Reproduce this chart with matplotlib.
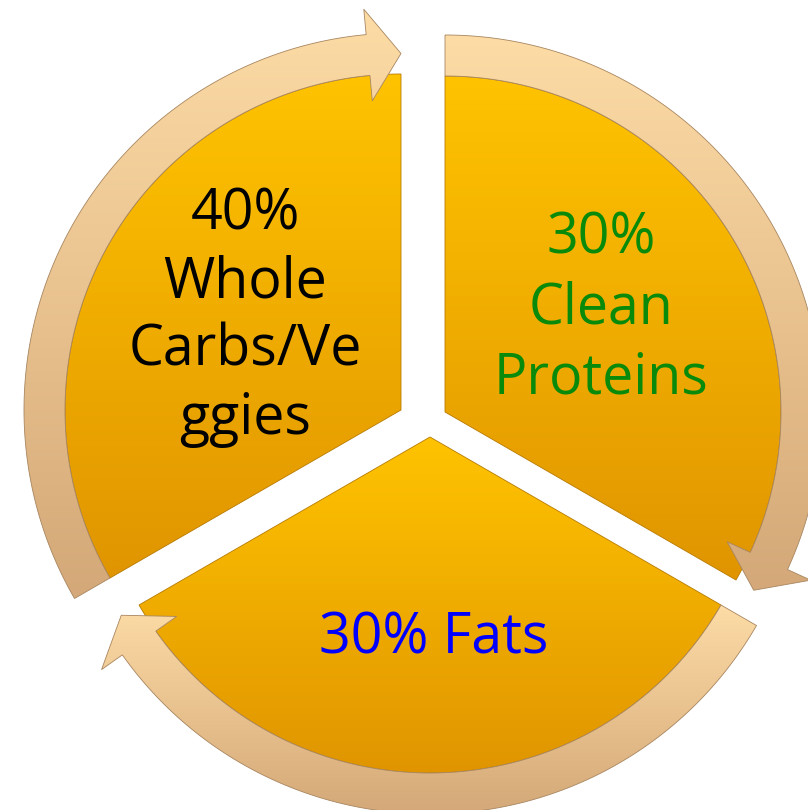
import numpy as np
import matplotlib
matplotlib.use("Agg")
import matplotlib.pyplot as plt
from matplotlib.patches import Polygon
from matplotlib.colors import to_rgb

# ---- data ----
labels = [["40%", "Whole", "Carbs/Ve", "ggies"],
          ["30%", "Clean", "Proteins"],
          ["30% Fats"]]
values = [40, 30, 30]
text_colors = ["#000000", "#0A8A0A", "#0000FF"]

# ---- layout (pixel coordinates) ----
centers = [(401, 410), (445, 412), (430, 437)]      # exploded apex of each segment
start_angles = [210, 90, -30]                        # clockwise sweep, 120 deg each
text_pos = [(245, [230, 298, 366, 434]), (601, [253, 323, 393]), (434, [653])]
R_WEDGE = 336
R_IN, R_OUT = 336, 377
HEAD_HALF = 46
HEAD_LEN = 33

W, H = 808, 810
fig = plt.figure(figsize=(W / 100, H / 100), dpi=100)
ax = fig.add_axes([0, 0, 1, 1])
ax.axis("off")


def pt(c, r, a):
    t = np.radians(a)
    return (c[0] + r * np.cos(t), c[1] - r * np.sin(t))


def grad_fill(patch, ctop, cbot, z, edge=None, lw=0.8):
    patch.set_facecolor("none")
    patch.set_edgecolor(edge if edge else "none")
    patch.set_linewidth(lw)
    patch.set_zorder(z + 0.5)
    ax.add_patch(patch)
    xy = patch.get_xy()
    x0, x1 = xy[:, 0].min(), xy[:, 0].max()
    y0, y1 = xy[:, 1].min(), xy[:, 1].max()
    t = np.linspace(0, 1, 256)[:, None, None]
    a, b = np.array(to_rgb(ctop)), np.array(to_rgb(cbot))
    img = a * (1 - t) + b * t
    im = ax.imshow(img, extent=(x0, x1, y1, y0), origin="upper", aspect="auto",
                   zorder=z, interpolation="bilinear")
    im.set_clip_path(patch)


n = len(values)
span = 360.0 / n
for i in range(n):
    c = centers[i]
    a0 = start_angles[i]
    a1 = a0 - span
    # wedge
    angs = np.linspace(a0, a1, 200)
    verts = [c] + [pt(c, R_WEDGE, a) for a in angs]
    grad_fill(Polygon(verts, closed=True), "#FFC300", "#E09500", 2,
              edge="#B87A00", lw=0.6)
    # ring arrow
    rm = (R_IN + R_OUT) / 2
    dlt = np.degrees(HEAD_LEN / rm)
    ab = a1 + dlt
    angs = np.linspace(a0, ab, 200)
    outer = [pt(c, R_OUT, a) for a in angs]
    inner = [pt(c, R_IN, a) for a in angs[::-1]]
    head = [pt(c, rm + HEAD_HALF, ab), pt(c, rm, a1), pt(c, rm - HEAD_HALF, ab)]
    grad_fill(Polygon(outer + head + inner, closed=True), "#FDDCA6", "#D4A878", 4,
              edge="#A88660", lw=0.6)

for i in range(n):
    x, ys = text_pos[i]
    for line, y in zip(labels[i], ys):
        ax.text(x, y, line, ha="center", va="baseline", fontsize=40,
                family="Open Sans", color=text_colors[i], zorder=10)

ax.set_xlim(0, W)
ax.set_ylim(H, 0)
fig.savefig("out.png", dpi=100, facecolor="white")
